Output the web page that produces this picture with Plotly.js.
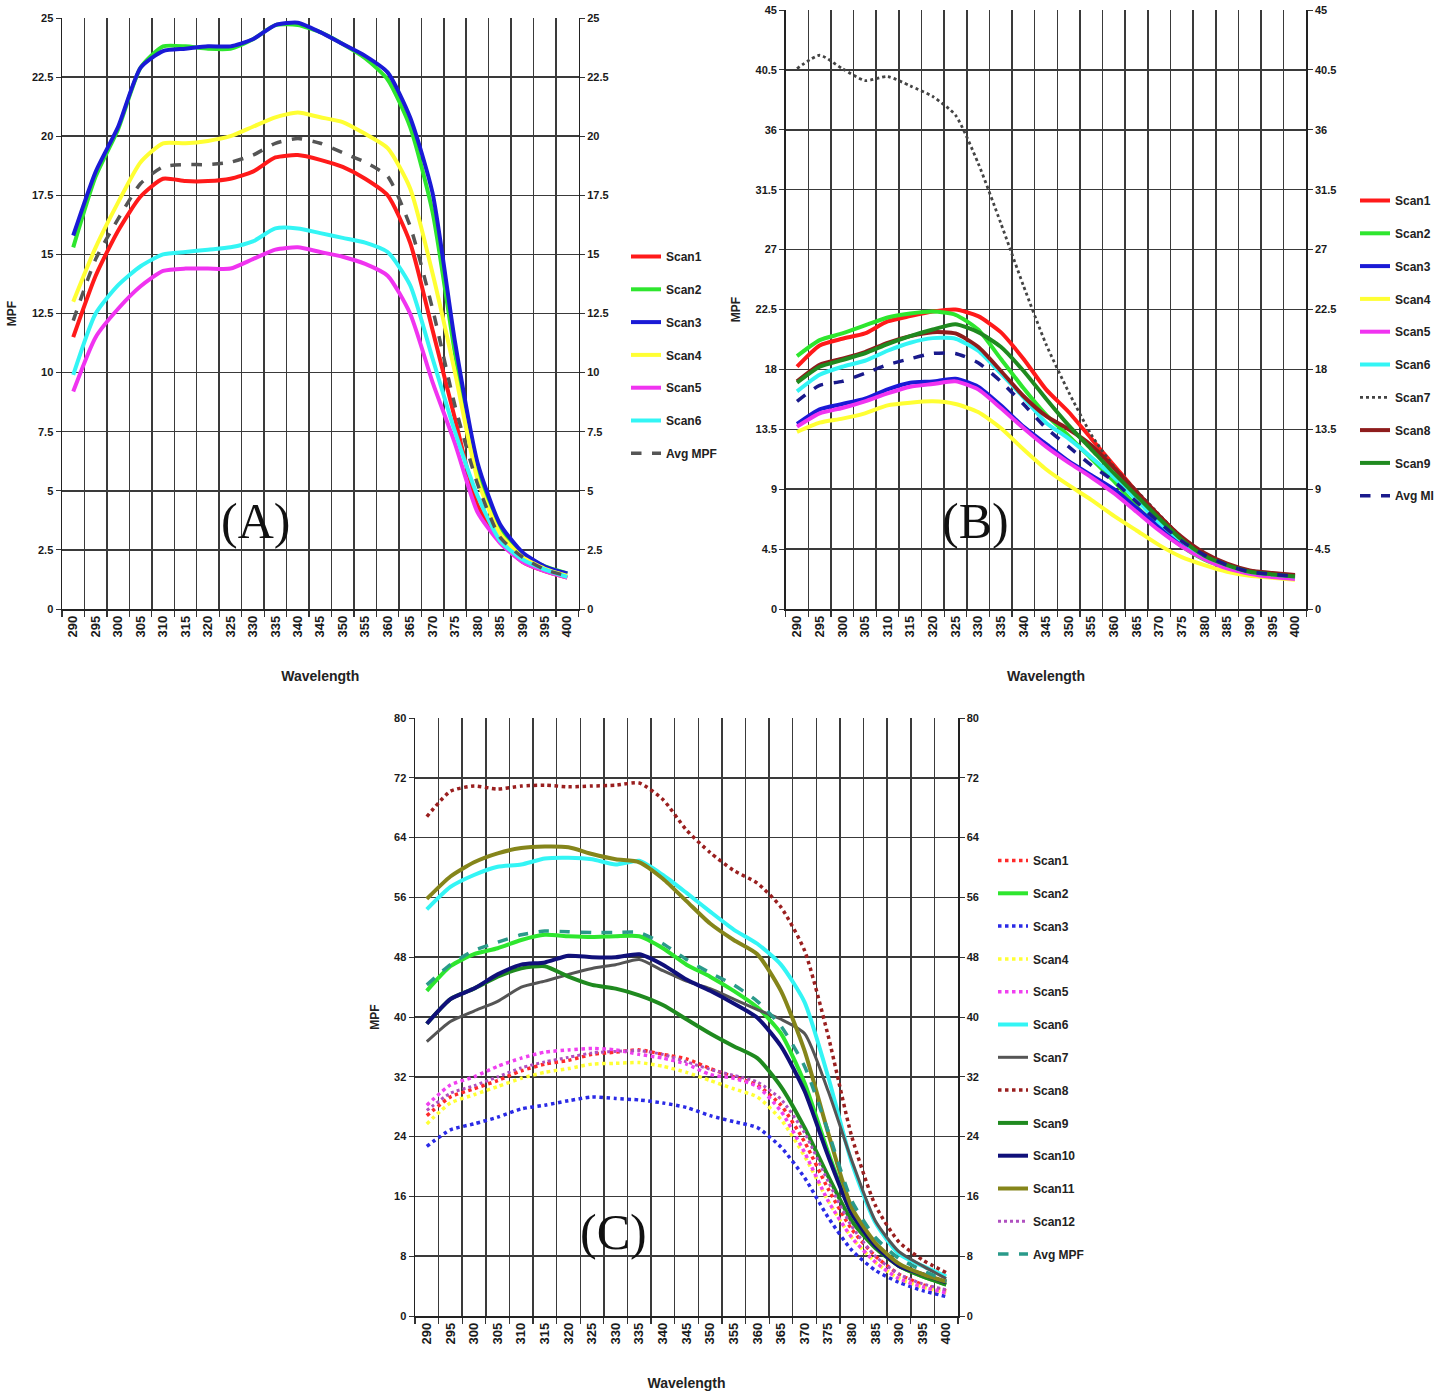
<!DOCTYPE html>
<html>
<head>
<meta charset="utf-8">
<script src="https://cdn.plot.ly/plotly-3.0.1.min.js"></script>
<style>html,body{margin:0;padding:0;background:#fff;}#chart{width:1444px;height:1399px;}</style>
</head>
<body>
<div id="chart"></div>
<script>
// ---- Data ----
const wavelength = [290,295,300,305,310,315,320,325,330,335,340,345,350,355,360,365,370,375,380,385,390,395,400];
const wavelengthLabels = wavelength.map(String);

// Panel A
const A_scan1 = [11.5,14.1,16.0,17.45,18.2,18.1,18.1,18.2,18.5,19.1,19.2,19.0,18.7,18.2,17.5,15.5,11.8,8.05,4.4,2.9,2.0,1.6,1.33];
const A_scan2 = [15.3,18.3,20.3,22.9,23.8,23.8,23.7,23.7,24.1,24.7,24.7,24.4,23.9,23.3,22.4,20.4,16.8,10.8,5.7,3.4,2.3,1.8,1.5];
const A_scan3 = [15.8,18.5,20.4,22.9,23.6,23.7,23.8,23.8,24.1,24.7,24.8,24.4,23.9,23.4,22.7,20.8,17.6,11.3,6.2,3.6,2.4,1.8,1.5];
const A_scan4 = [13.0,15.3,17.2,18.9,19.7,19.7,19.8,20.0,20.4,20.8,21.0,20.8,20.6,20.1,19.5,17.8,14.2,10.0,5.5,3.2,2.2,1.7,1.4];
const A_scan5 = [9.2,11.5,12.7,13.65,14.3,14.4,14.4,14.4,14.8,15.2,15.3,15.1,14.9,14.6,14.1,12.5,9.6,7.0,4.1,2.8,2.0,1.6,1.33];
const A_scan6 = [9.9,12.5,13.7,14.5,15.0,15.1,15.2,15.3,15.55,16.1,16.1,15.9,15.7,15.5,15.1,13.7,10.6,7.5,4.8,2.9,2.1,1.67,1.36];
const A_avg   = [12.2,14.8,16.5,18.0,18.7,18.8,18.8,18.9,19.2,19.7,19.9,19.7,19.3,18.9,18.3,16.2,12.7,8.6,5.3,3.05,2.2,1.67,1.4];

// Panel B
const B_scan1 = [18.2,19.8,20.3,20.7,21.6,22.0,22.35,22.5,22.0,20.8,18.8,16.5,14.8,12.8,10.8,8.8,7.0,5.3,4.1,3.3,2.8,2.6,2.45];
const B_scan2 = [19.0,20.2,20.7,21.3,21.9,22.2,22.35,22.1,21.0,18.8,16.6,14.6,13.0,11.3,9.6,7.7,6.1,4.7,3.7,3.1,2.7,2.45,2.3];
const B_scan3 = [13.9,15.0,15.4,15.8,16.5,17.0,17.1,17.3,16.7,15.3,13.7,12.4,11.1,10.05,9.0,7.6,6.2,5.0,3.9,3.1,2.75,2.5,2.35];
const B_scan4 = [13.3,14.0,14.3,14.7,15.3,15.5,15.6,15.4,14.8,13.6,12.0,10.5,9.3,8.2,7.0,5.9,4.8,3.9,3.3,2.8,2.5,2.35,2.2];
const B_scan5 = [13.7,14.7,15.1,15.6,16.2,16.7,16.9,17.1,16.5,15.1,13.6,12.2,11.0,9.9,8.7,7.3,5.9,4.7,3.75,3.05,2.65,2.4,2.25];
const B_scan6 = [16.35,17.6,18.2,18.65,19.4,20.0,20.35,20.3,19.4,17.7,15.9,14.0,12.8,11.4,9.9,8.2,6.5,5.1,4.0,3.3,2.8,2.6,2.45];
const B_scan7 = [40.6,41.6,40.6,39.7,40.0,39.3,38.5,37.1,33.5,29.0,24.3,19.9,16.3,13.1,10.7,8.9,7.1,5.4,4.2,3.4,2.9,2.7,2.5];
const B_scan8 = [17.1,18.35,18.8,19.3,20.0,20.5,20.8,20.7,19.7,17.9,16.0,14.5,13.5,12.3,10.6,8.8,7.0,5.4,4.2,3.4,2.9,2.7,2.55];
const B_scan9 = [17.0,18.2,18.7,19.2,19.9,20.5,21.0,21.4,20.8,19.7,17.9,15.8,13.8,12.0,10.2,8.5,6.8,5.2,4.0,3.3,2.8,2.6,2.45];
const B_avg   = [15.6,16.8,17.1,17.7,18.35,18.8,19.2,19.2,18.5,17.1,15.4,13.6,12.2,10.8,9.6,8.05,6.5,5.1,4.05,3.3,2.8,2.6,2.45];

// Panel C
const C_scan1  = [26.8,29.3,30.4,31.5,32.8,33.7,34.2,35.0,35.3,35.6,35.0,34.4,33.1,32.0,30.9,28.2,23.3,17.0,11.6,8.0,5.6,4.2,3.4];
const C_scan2  = [43.5,46.8,48.4,49.2,50.3,51.0,50.8,50.7,50.8,50.8,49.2,47.0,45.4,43.5,41.3,37.8,31.2,21.9,13.7,9.4,6.7,5.3,4.2];
const C_scan3  = [22.7,24.9,25.7,26.6,27.7,28.2,28.8,29.3,29.1,28.9,28.5,27.9,26.8,26.0,25.2,22.6,18.5,13.2,8.8,6.1,4.5,3.4,2.6];
const C_scan4  = [25.7,28.5,29.6,30.7,31.8,32.6,33.1,33.7,33.8,33.9,33.4,32.6,31.5,30.4,29.3,26.3,21.4,15.4,10.5,7.2,5.0,3.9,3.1];
const C_scan5  = [28.2,30.9,32.0,33.4,34.5,35.3,35.6,35.8,35.6,35.0,34.5,33.7,32.3,31.8,30.7,27.4,21.9,15.4,10.5,7.2,5.0,3.9,3.1];
const C_scan6  = [54.4,57.4,59.0,60.1,60.4,61.2,61.3,61.1,60.4,60.9,59.0,56.6,54.1,51.7,49.8,47.0,42.0,32.0,20.5,12.5,8.3,6.7,5.3];
const C_scan7  = [36.7,39.4,40.8,42.1,44.0,44.8,45.7,46.5,47.0,47.7,46.2,44.8,43.8,42.4,41.0,39.7,37.8,30.1,20.8,12.7,8.6,6.7,5.0];
const C_scan8  = [66.8,70.2,70.9,70.5,70.9,71.0,70.8,70.9,71.0,71.3,69.1,65.0,62.0,59.6,57.9,54.7,48.9,37.5,24.0,14.8,9.9,7.5,5.8];
const C_scan9  = [39.1,42.4,43.8,45.4,46.5,46.8,45.4,44.3,43.8,42.9,41.6,39.7,37.8,36.1,34.5,30.7,25.2,18.7,12.7,9.1,6.7,5.3,4.2];
const C_scan10 = [39.1,42.4,43.8,45.7,47.0,47.3,48.2,48.0,48.0,48.4,47.0,45.0,43.5,41.8,39.9,36.1,30.1,21.4,13.7,9.4,6.7,5.6,4.5];
const C_scan11 = [55.8,58.8,60.7,61.9,62.6,62.8,62.7,61.8,61.1,60.7,58.5,55.5,52.5,50.3,48.4,43.5,35.5,24.5,14.5,9.8,7.0,5.6,4.6];
const C_scan12 = [27.5,29.8,30.8,32.0,33.2,34.0,34.6,35.2,35.4,35.5,35.0,34.0,33.0,32.2,31.3,29.0,24.5,18.0,12.0,8.0,5.6,4.3,3.5];
const C_avg    = [44.3,47.0,48.9,50.0,51.0,51.5,51.4,51.3,51.3,51.3,49.8,47.7,45.9,44.3,42.1,38.8,33.4,24.7,15.4,10.5,7.7,6.1,4.7];

// ---- Styling helpers ----
const FONT = 'Liberation Sans, Arial, sans-serif';
const yTickFont = {family: FONT, size: 11, color: '#1a1a1a', weight: 'bold'};
const xTickFont = {family: FONT, size: 13, color: '#1a1a1a', weight: 'bold'};
const gridColor = '#3a3a3a';

function tr(y, name, color, xa, ya, leg, dash, width) {
  return {
    x: wavelength, y: y, name: name, type: 'scatter', mode: 'lines',
    xaxis: xa, yaxis: ya, legend: leg, legendgroup: leg + name,
    line: {color: color, width: width || 4, dash: dash || 'solid', shape: 'spline', smoothing: 0.6},
    hoverinfo: 'x+y+name'
  };
}

const traces = [
  tr(A_scan1, 'Scan1', '#ff1a1a', 'x', 'y', 'legend'),
  tr(A_scan2, 'Scan2', '#2ee62e', 'x', 'y', 'legend'),
  tr(A_scan3, 'Scan3', '#1a1ad6', 'x', 'y', 'legend'),
  tr(A_scan4, 'Scan4', '#ffff33', 'x', 'y', 'legend'),
  tr(A_scan5, 'Scan5', '#f033f0', 'x', 'y', 'legend'),
  tr(A_scan6, 'Scan6', '#33f5f5', 'x', 'y', 'legend'),
  tr(A_avg,   'Avg MPF', '#555555', 'x', 'y', 'legend', 'dash', 3.5),

  tr(B_scan1, 'Scan1', '#ff1a1a', 'x2', 'y2', 'legend2'),
  tr(B_scan2, 'Scan2', '#2ee62e', 'x2', 'y2', 'legend2'),
  tr(B_scan3, 'Scan3', '#1a1ad6', 'x2', 'y2', 'legend2'),
  tr(B_scan4, 'Scan4', '#ffff33', 'x2', 'y2', 'legend2'),
  tr(B_scan5, 'Scan5', '#f033f0', 'x2', 'y2', 'legend2'),
  tr(B_scan6, 'Scan6', '#33f5f5', 'x2', 'y2', 'legend2'),
  tr(B_scan7, 'Scan7', '#444444', 'x2', 'y2', 'legend2', 'dot', 2.8),
  tr(B_scan8, 'Scan8', '#8e1c1c', 'x2', 'y2', 'legend2'),
  tr(B_scan9, 'Scan9', '#1f8a1f', 'x2', 'y2', 'legend2'),
  tr(B_avg,   'Avg MI', '#1a1a8c', 'x2', 'y2', 'legend2', 'dash', 3.5),

  tr(C_scan1,  'Scan1',  '#ff2a2a', 'x3', 'y3', 'legend3', 'dot', 3.5),
  tr(C_scan2,  'Scan2',  '#2ee62e', 'x3', 'y3', 'legend3'),
  tr(C_scan3,  'Scan3',  '#2a2ae6', 'x3', 'y3', 'legend3', 'dot', 3.5),
  tr(C_scan4,  'Scan4',  '#ffff33', 'x3', 'y3', 'legend3', 'dot', 3.5),
  tr(C_scan5,  'Scan5',  '#f040f0', 'x3', 'y3', 'legend3', 'dot', 3.5),
  tr(C_scan6,  'Scan6',  '#33f5f5', 'x3', 'y3', 'legend3'),
  tr(C_scan7,  'Scan7',  '#555555', 'x3', 'y3', 'legend3', 'solid', 3),
  tr(C_scan8,  'Scan8',  '#9a1f1f', 'x3', 'y3', 'legend3', 'dot', 3.5),
  tr(C_scan9,  'Scan9',  '#1f8a1f', 'x3', 'y3', 'legend3'),
  tr(C_scan10, 'Scan10', '#10107a', 'x3', 'y3', 'legend3'),
  tr(C_scan11, 'Scan11', '#85851a', 'x3', 'y3', 'legend3'),
  tr(C_scan12, 'Scan12', '#b050c0', 'x3', 'y3', 'legend3', 'dot', 3),
  tr(C_avg,    'Avg MPF', '#2a9a8a', 'x3', 'y3', 'legend3', 'dash', 3.5)
];

// empty traces so the right-hand axes render
['y4','y5','y6'].forEach((ya, i) => {
  traces.push({x: [], y: [], xaxis: ['x','x2','x3'][i], yaxis: ya, showlegend: false, type: 'scatter', mode: 'lines', hoverinfo: 'skip'});
});

const W = 1444, H = 1399;
function px2x(p) { return p / W; }
function px2y(p) { return 1 - p / H; }

function xAx(l, r, anchor) {
  return {
    domain: [px2x(l), px2x(r)], anchor: anchor,
    range: [287.5, 402.5], tickmode: 'array', tickvals: wavelength, ticktext: wavelengthLabels,
    tickangle: -90, tickfont: xTickFont, ticks: '', showgrid: false, zeroline: false,
    showline: true, linecolor: '#222', linewidth: 1.5,
    minor: {tickmode: 'linear', tick0: 287.5, dtick: 5, showgrid: true, gridcolor: gridColor, gridwidth: 1.5,
            ticks: 'outside', ticklen: 6, tickcolor: '#333', tickwidth: 1.2},
    title: {text: 'Wavelength', font: {family: FONT, size: 14, color: '#222', weight: 'bold'}, standoff: 35}
  };
}
function yAx(top, bottom, maxv, step, anchor) {
  return {
    domain: [px2y(bottom), px2y(top)], anchor: anchor,
    range: [0, maxv], tickmode: 'linear', tick0: 0, dtick: step,
    tickfont: yTickFont, ticks: 'outside', ticklen: 5, tickcolor: '#333',
    showgrid: true, gridcolor: gridColor, gridwidth: 1.5, zeroline: false,
    showline: true, linecolor: '#222', linewidth: 1.5,
    title: {text: 'MPF', font: {family: FONT, size: 12, color: '#222', weight: 'bold'}, standoff: 12}
  };
}
function yRight(over, anchor, maxv, step) {
  return {
    overlaying: over, side: 'right', anchor: anchor,
    range: [0, maxv], tickmode: 'linear', tick0: 0, dtick: step,
    tickfont: yTickFont, ticks: 'outside', ticklen: 5, tickcolor: '#333',
    showgrid: false, zeroline: false, showline: true, linecolor: '#222', linewidth: 1.5
  };
}
function legendCfg(lx, ty) {
  return {
    x: px2x(lx), y: px2y(ty), xanchor: 'left', yanchor: 'top',
    font: {family: FONT, size: 12, color: '#222', weight: 'bold'},
    bgcolor: 'rgba(0,0,0,0)', tracegroupgap: 13.8, itemwidth: 30
  };
}
function panelLabel(text, cx, cy) {
  return {text: text, x: px2x(cx), y: px2y(cy), xref: 'paper', yref: 'paper', showarrow: false,
          font: {family: 'Liberation Serif, Times New Roman, serif', size: 50, color: '#111'},
          xanchor: 'center', yanchor: 'middle'};
}

const layout = {
  width: W, height: H, margin: {l: 0, r: 0, t: 0, b: 0},
  paper_bgcolor: '#ffffff', plot_bgcolor: '#ffffff',
  showlegend: true,
  xaxis:  xAx(62, 578.5, 'y'),
  yaxis:  yAx(18, 609, 25, 2.5, 'x'),
  yaxis4: yRight('y', 'x', 25, 2.5),
  xaxis2: xAx(785.7, 1306.3, 'y2'),
  yaxis2: yAx(10, 609, 45, 4.5, 'x2'),
  yaxis5: yRight('y2', 'x2', 45, 4.5),
  xaxis3: xAx(415, 958, 'y3'),
  yaxis3: yAx(718, 1316, 80, 8, 'x3'),
  yaxis6: yRight('y3', 'x3', 80, 8),
  legend:  legendCfg(626, 242),
  legend2: legendCfg(1355, 186),
  legend3: legendCfg(993, 846),
  annotations: [
    panelLabel('(A)', 255, 521),
    panelLabel('(B)', 975, 521),
    panelLabel('(C)', 613, 1232)
  ]
};

Plotly.newPlot('chart', traces, layout, {displayModeBar: false, staticPlot: true});
</script>
</body>
</html>
